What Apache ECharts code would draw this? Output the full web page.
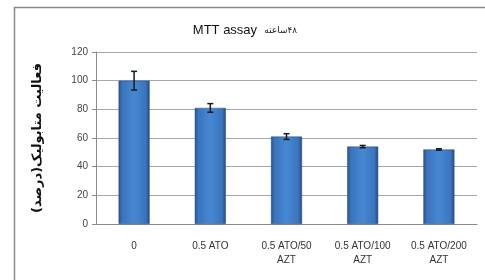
<!DOCTYPE html>
<html>
<head>
<meta charset="utf-8">
<script src="https://cdn.jsdelivr.net/npm/echarts@6/dist/echarts.min.js"></script>
<style>
  html, body { margin: 0; padding: 0; background: #fff; }
  #main { width: 485px; height: 280px; }
</style>
</head>
<body>
<div id="main"></div>
<script>
var categories = ['0', '0.5 ATO', '0.5 ATO/50\nAZT', '0.5 ATO/100\nAZT', '0.5 ATO/200\nAZT'];
var values = [100, 81, 61, 54, 52];
var errors = [6.5, 3, 2, 0.8, 0.5];
var yTicks = [0, 20, 40, 60, 80, 100, 120];

var chart = echarts.init(document.getElementById('main'));

var errData = values.map(function (v, i) {
  return [i, v - errors[i], v + errors[i]];
});

var barColor = new echarts.graphic.LinearGradient(0, 0, 1, 0, [
  { offset: 0, color: '#27548e' },
  { offset: 0.12, color: '#3a74bd' },
  { offset: 0.5, color: '#4788d3' },
  { offset: 0.88, color: '#3a74bd' },
  { offset: 1, color: '#224c82' }
]);

var option = {
  backgroundColor: '#fff',
  animation: false,
  title: {
    // word and digits as separate segments so the digits sit on the right
    text: 'MTT assay  {s|ساعته}{s|۴۸}',
    left: 240,
    textAlign: 'center',
    top: 19,
    textStyle: {
      fontFamily: 'Liberation Sans',
      fontSize: 13,
      fontWeight: 'normal',
      color: '#111',
      rich: {
        s: { fontFamily: 'DejaVu Sans', fontSize: 9, color: '#222' }
      }
    }
  },
  grid: {
    left: 96,
    right: 8,
    top: 52,
    bottom: 56
  },
  graphic: [
    { type: 'line', shape: { x1: 14.5, y1: 7, x2: 14.5, y2: 280 }, style: { stroke: '#8a8a8a', lineWidth: 1.5 } },
    { type: 'line', shape: { x1: 14, y1: 7.5, x2: 485, y2: 7.5 }, style: { stroke: '#8a8a8a', lineWidth: 1.5 } }
  ],
  xAxis: {
    type: 'category',
    data: categories,
    axisLine: { lineStyle: { color: '#8c8c8c' } },
    axisTick: { length: 5, lineStyle: { color: '#8c8c8c' } },
    axisLabel: {
      margin: 15,
      fontFamily: 'Liberation Sans',
      fontSize: 10,
      color: '#333',
      lineHeight: 14,
      interval: 0
    }
  },
  yAxis: {
    type: 'value',
    min: 0,
    max: 120,
    interval: 20,
    name: 'فعالیت متابولیک(درصد)',
    nameLocation: 'middle',
    nameRotate: 90,
    nameGap: 52,
    nameTextStyle: {
      fontFamily: 'DejaVu Sans',
      fontSize: 13,
      fontWeight: 'bold',
      color: '#111'
    },
    axisLine: { show: true, lineStyle: { color: '#8c8c8c' } },
    axisTick: { show: true, length: 4, lineStyle: { color: '#8c8c8c' } },
    axisLabel: {
      margin: 8,
      fontFamily: 'Liberation Sans',
      fontSize: 10,
      color: '#444',
      formatter: function (v) { return yTicks.indexOf(v) >= 0 ? String(v) : ''; }
    },
    splitLine: { lineStyle: { color: '#a8a8a8' } }
  },
  series: [
    {
      type: 'bar',
      data: values,
      barWidth: 31,
      itemStyle: {
        color: barColor,
        borderColor: '#1f4a80',
        borderWidth: 0.5
      }
    },
    {
      type: 'custom',
      data: errData,
      z: 10,
      renderItem: function (params, api) {
        var x = api.value(0);
        var lo = api.coord([x, api.value(1)]);
        var hi = api.coord([x, api.value(2)]);
        var w = 3;
        var st = { stroke: '#1a1a1a', lineWidth: 1.5 };
        return {
          type: 'group',
          children: [
            { type: 'line', shape: { x1: hi[0], y1: hi[1], x2: lo[0], y2: lo[1] }, style: st },
            { type: 'line', shape: { x1: hi[0] - w, y1: hi[1], x2: hi[0] + w, y2: hi[1] }, style: st },
            { type: 'line', shape: { x1: lo[0] - w, y1: lo[1], x2: lo[0] + w, y2: lo[1] }, style: st }
          ]
        };
      }
    }
  ]
};

chart.setOption(option);
</script>
</body>
</html>
